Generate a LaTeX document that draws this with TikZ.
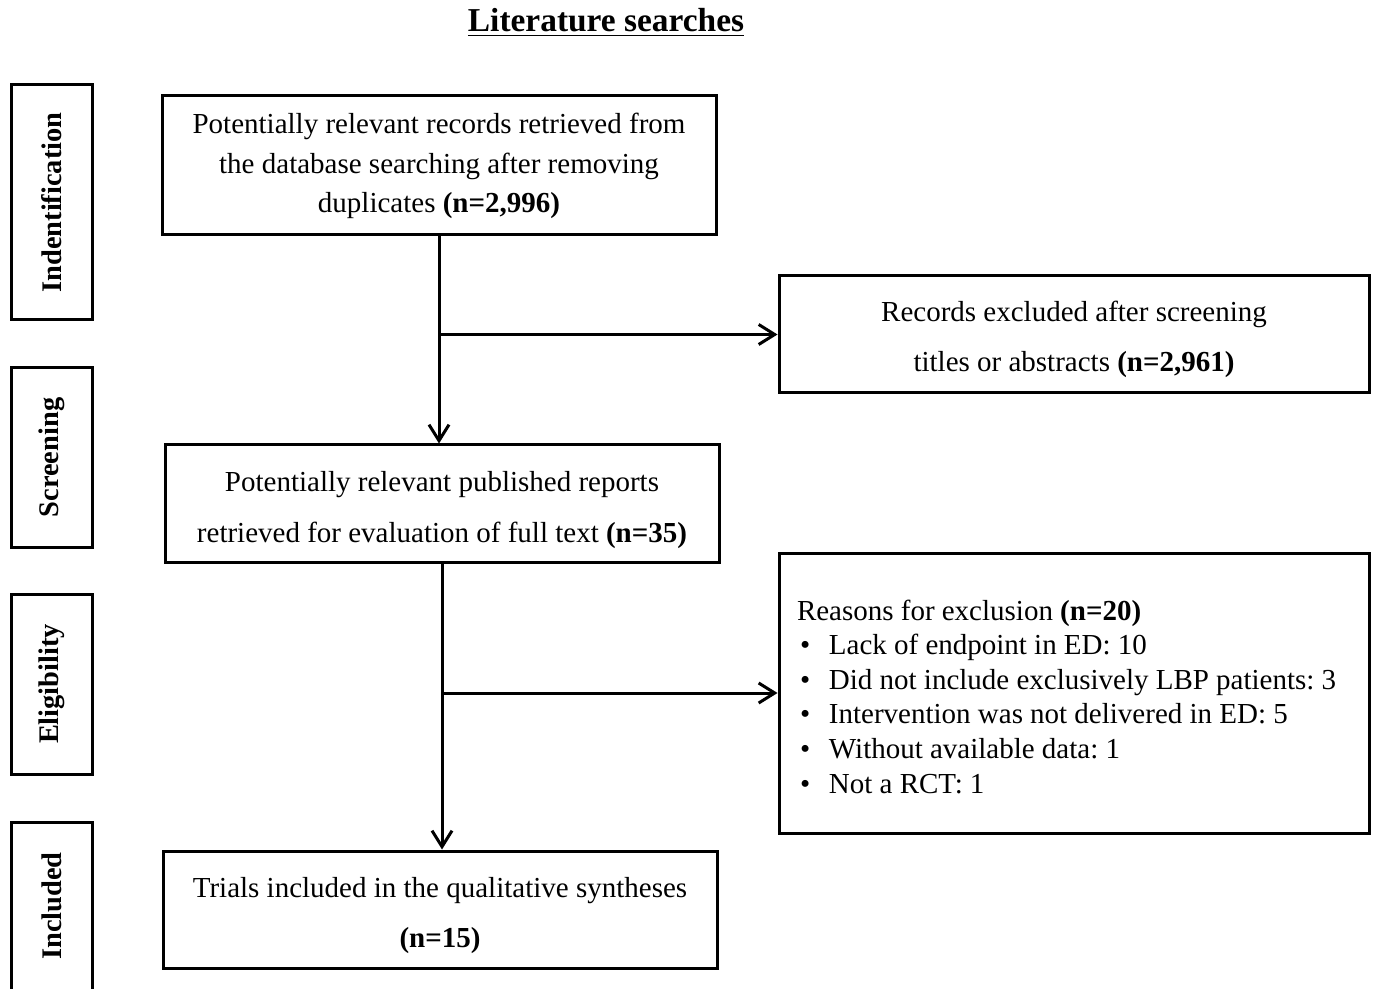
\documentclass[tikz,border=0pt]{standalone}
\usepackage{fontspec}
\setmainfont{Liberation Serif}
\usetikzlibrary{arrows.meta}
\newcommand\tightsp{\spaceskip=3.6pt\relax\xspaceskip=3.6pt\relax}
\newcommand\bitem{\par\noindent\makebox[16pt][l]{\hspace{1.5pt}\textbullet}}
\begin{document}
\begin{tikzpicture}[x=0.5pt,y=-0.5pt,
  box/.style={draw,line width=1.5pt,inner sep=0pt,align=center,minimum width=277pt,minimum height=58.5pt,text depth=0pt},
  side/.style={draw,line width=1.5pt,inner sep=0pt,rotate=90,minimum height=40.5pt,font=\fontsize{14.2}{17}\selectfont\bfseries},
  arr/.style={line width=1.5pt,-{Straight Barb[length=8pt,width=10pt,line width=1.5pt]}}]
\clip (0,0) rectangle (1376,989);
\fill[white] (0,0) rectangle (1376,989);
\node[anchor=base,font=\fontsize{16.7}{20}\selectfont\bfseries] (title) at (606,32) {\underline{Literature searches}};
% side labels
\node[side,minimum width=117.5pt] (s1) at (51.5,202.5) {Indentification};
\node[side,minimum width=89.5pt] (s2) at (51.5,457.5) {Screening};
\node[side,minimum width=90pt] (s3) at (51.5,684) {Eligibility};
\node[side,minimum width=84pt] (s4) at (51.5,906) {Included};
% main boxes
\node[box,minimum height=69.5pt,text height=47.5pt,font=\fontsize{14.5}{19.75}\selectfont] (A) at (439,165.5)
  {Potentially relevant records retrieved from\\the database searching after removing\\duplicates \textbf{(n=2,996)}};
\node[box,minimum width=295pt,text height=37.5pt,font=\fontsize{14.5}{25}\selectfont] (B) at (1074,334.5)
  {Records excluded after screening\\titles or abstracts \textbf{(n=2,961)}};
\node[box,text height=38.5pt,font=\fontsize{14.5}{25}\selectfont] (C) at (442,503.5)
  {Potentially relevant published reports\\retrieved for evaluation of full text \textbf{(n=35)}};
\node[box,minimum width=295pt,minimum height=140pt,text width=277pt,inner xsep=9pt,align=left,text height=0pt,text depth=73pt,
      font=\fontsize{14.5}{17.3}\selectfont] (D) at (1074,693)
  {\tightsp Reasons for exclusion \textbf{(n=20)}\\
   \makebox[16pt][l]{\hspace{1.5pt}\textbullet}Lack of endpoint in ED: 10\\
   \makebox[16pt][l]{\hspace{1.5pt}\textbullet}Did not include exclusively LBP patients: 3\\
   \makebox[16pt][l]{\hspace{1.5pt}\textbullet}Intervention was not delivered in ED: 5\\
   \makebox[16pt][l]{\hspace{1.5pt}\textbullet}Without available data: 1\\
   \makebox[16pt][l]{\hspace{1.5pt}\textbullet}Not a RCT: 1};
\node[box,text height=37.5pt,font=\fontsize{14.5}{25}\selectfont] (E) at (440,909.5)
  {Trials included in the qualitative syntheses\\\textbf{(n=15)}};
% connectors
\draw[arr] (A.south) -- (A.south |- C.north);
\coordinate (j1) at (A.south |- B.west);
\draw[arr] (j1) -- (B.west);
\draw[arr] (C.south) -- (C.south |- E.north);
\coordinate (j2) at (C.south |- D.west);
\draw[arr] (j2) -- (D.west);
\end{tikzpicture}
\end{document}
